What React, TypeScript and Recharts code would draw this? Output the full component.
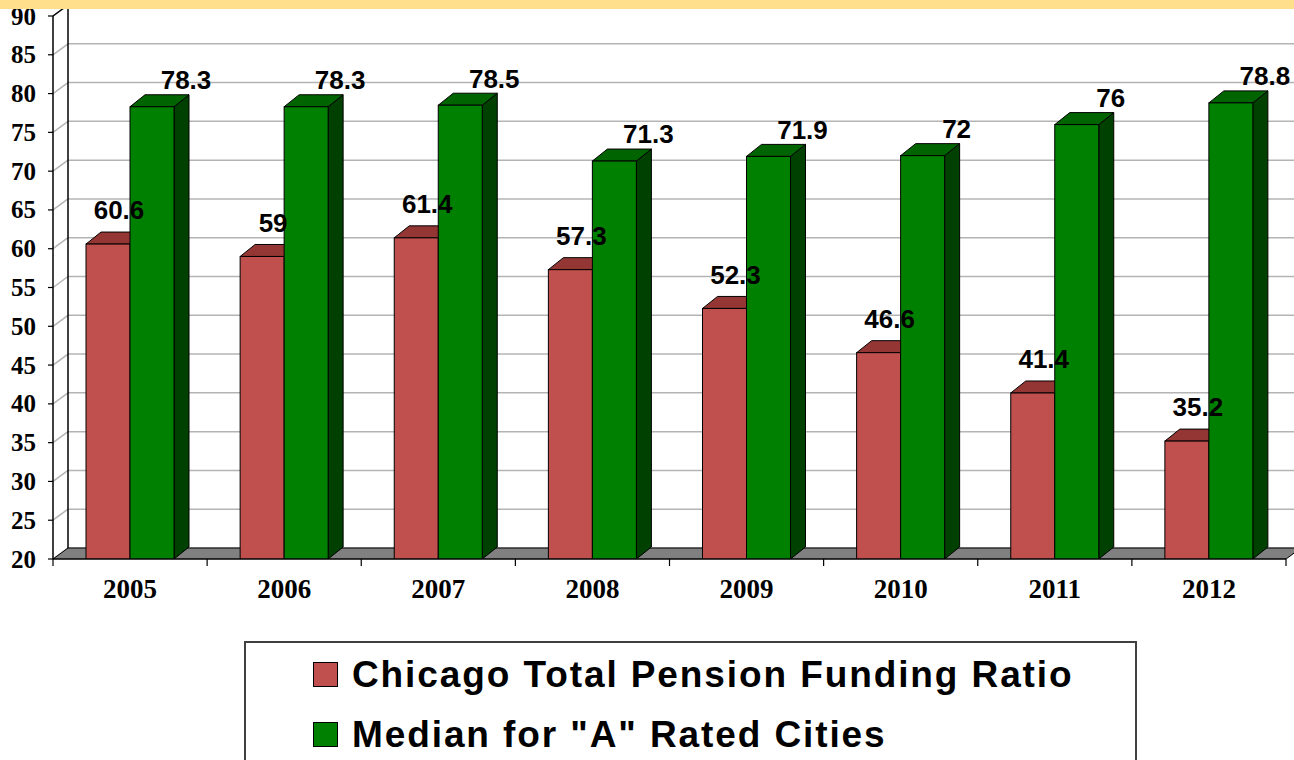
import React from "react";
import { BarChart, Bar, XAxis, YAxis, CartesianGrid, ReferenceArea, LabelList } from "recharts";

const years = ["2005", "2006", "2007", "2008", "2009", "2010", "2011", "2012"];
const chicagoRatio = [60.6, 59, 61.4, 57.3, 52.3, 46.6, 41.4, 35.2];
const medianA = [78.3, 78.3, 78.5, 71.3, 71.9, 72, 76, 78.8];
const yTicks = [20, 25, 30, 35, 40, 45, 50, 55, 60, 65, 70, 75, 80, 85, 90];

const series = [
  { key: "chicago", name: "Chicago Total Pension Funding Ratio", front: "#C0504D", top: "#943634", side: "#6E2725" },
  { key: "median", name: 'Median for "A" Rated Cities', front: "#008000", top: "#006400", side: "#004000" },
];

const data = years.map((year, i) => ({ year, chicago: chicagoRatio[i], median: medianA[i] }));

// depth of the walls / floor and of the bars
const DX = 15;
const DY = -11;
const BDX = 15;
const BDY = -12;

const serif = "'Liberation Serif', 'Times New Roman', serif";
const sans = "'Liberation Sans', Arial, sans-serif";

const make3DBar = (s: typeof series[number]) => (props: any) => {
  const { x, y, width: w, height: h } = props;
  if (w == null || h == null) return null;
  return (
    <g>
      <polygon
        points={`${x + w},${y} ${x + w + BDX},${y + BDY} ${x + w + BDX},${y + h + BDY} ${x + w},${y + h}`}
        fill={s.side}
        stroke="#000"
        strokeWidth={1}
      />
      <polygon
        points={`${x},${y} ${x + BDX},${y + BDY} ${x + w + BDX},${y + BDY} ${x + w},${y}`}
        fill={s.top}
        stroke="#000"
        strokeWidth={1}
      />
      <rect x={x} y={y} width={w} height={h} fill={s.front} stroke="#000" strokeWidth={1} />
    </g>
  );
};

// side wall, back edge and floor of the 3d box
const Walls = (props: any) => {
  const { x, y, width, height } = props;
  const bottom = y + height;
  const n = years.length;
  const ticks = [];
  for (let i = 0; i <= n; i++) {
    const tx = x + (i * width) / n;
    ticks.push(<line key={i} x1={tx} y1={bottom} x2={tx} y2={bottom + 7} stroke="#000" strokeWidth={1.2} />);
  }
  return (
    <g>
      <line x1={x + DX} y1={y + DY} x2={x + DX} y2={bottom + DY} stroke="#000" strokeWidth={1.5} />
      <line x1={x} y1={y} x2={x + DX} y2={y + DY} stroke="#000" strokeWidth={1.5} />
      <polygon
        points={`${x},${bottom} ${x + width},${bottom} ${x + width + DX},${bottom + DY} ${x + DX},${bottom + DY}`}
        fill="#808080"
        stroke="#000"
        strokeWidth={1}
      />
      {ticks}
    </g>
  );
};

const gridLine = (props: any) => {
  const { x1, x2, y1, index } = props;
  return (
    <g key={`grid-${index}`}>
      <line x1={x1} y1={y1} x2={x1 + DX} y2={y1 + DY} stroke="#b4b4b4" strokeWidth={1.5} />
      <line x1={x1 + DX} y1={y1 + DY} x2={x2 + DX} y2={y1 + DY} stroke="#b4b4b4" strokeWidth={1.5} />
    </g>
  );
};

const YTick = (props: any) => {
  const { x, y, payload } = props;
  return (
    <text x={x} y={y} dy="0.34em" textAnchor="end" fontFamily={serif} fontWeight="bold" fontSize={25} fill="#000">
      {payload.value}
    </text>
  );
};

const XTick = (props: any) => {
  const { x, y, payload } = props;
  return (
    <text x={x} y={y + 39} textAnchor="middle" fontFamily={serif} fontWeight="bold" fontSize={27} fill="#000">
      {payload.value}
    </text>
  );
};

const labelText = (cx: number, cy: number, value: number, key: string) => (
  <text key={key} x={cx} y={cy} dy="0.36em" textAnchor="middle" fontFamily={sans} fontWeight="bold" fontSize={26} fill="#000">
    {value}
  </text>
);

// green labels
const medianLabel = (props: any) => {
  const vb = props.viewBox || props;
  const { x, y, width } = vb;
  return labelText(x + width / 2 + 34, y - 27, props.value, `m-${props.index}`);
};

// red labels, drawn in the green series so they sit over the green bars
const chicagoLabel = (props: any) => {
  const vb = props.viewBox || props;
  const { x, y, width, height } = vb;
  const i = props.index;
  const perUnit = height / (medianA[i] - 20);
  const redTop = y + height - (chicagoRatio[i] - 20) * perUnit;
  return labelText(x - width / 2 + 11, redTop - 34, chicagoRatio[i], `c-${i}`);
};

const App = () => {
  return (
    <div style={{ position: "absolute", left: 0, top: 0, width: 1294, height: 760, overflow: "hidden", background: "#fff" }}>
      <BarChart
        width={1294}
        height={760}
        data={data}
        margin={{ top: 16, right: 8, left: 0, bottom: 161 }}
        barGap={0}
        barSize={44}
      >
        <CartesianGrid vertical={false} horizontal={gridLine} />
        <ReferenceArea y1={20} y2={90} ifOverflow="visible" shape={<Walls />} />
        <XAxis
          dataKey="year"
          height={40}
          axisLine={{ stroke: "#000", strokeWidth: 1.2 }}
          tickLine={false}
          tickSize={0}
          tickMargin={0}
          tick={<XTick />}
          interval={0}
        />
        <YAxis
          width={53}
          domain={[20, 90]}
          ticks={yTicks}
          interval={0}
          allowDataOverflow
          axisLine={{ stroke: "#000", strokeWidth: 1.5 }}
          tickLine={{ stroke: "#000", strokeWidth: 1.2 }}
          tickSize={5}
          tickMargin={12}
          tick={<YTick />}
        />
        <Bar dataKey="chicago" name={series[0].name} shape={make3DBar(series[0])} isAnimationActive={false} />
        <Bar dataKey="median" name={series[1].name} shape={make3DBar(series[1])} isAnimationActive={false}>
          <LabelList dataKey="median" content={medianLabel} />
          <LabelList dataKey="chicago" content={chicagoLabel} />
        </Bar>
      </BarChart>

      <div style={{ position: "absolute", left: 0, top: 0, width: 1294, height: 9, background: "#FFDF8C" }} />

      <div
        style={{
          position: "absolute",
          left: 244,
          top: 641,
          width: 889,
          height: 140,
          border: "2px solid #404040",
          background: "#fff",
        }}
      >
        {series.map((s, i) => (
          <div key={s.key}>
            <div
              style={{
                position: "absolute",
                left: 67,
                top: 19 + i * 60,
                width: 23,
                height: 23,
                background: s.front,
                border: "1px solid #000",
              }}
            />
            <div
              style={{
                position: "absolute",
                left: 106,
                top: 13 + i * 60,
                fontFamily: sans,
                fontWeight: "bold",
                fontSize: 37,
                lineHeight: "37px",
                letterSpacing: 1.9,
                whiteSpace: "nowrap",
                color: "#000",
              }}
            >
              {s.name}
            </div>
          </div>
        ))}
      </div>
    </div>
  );
};

export default App;
